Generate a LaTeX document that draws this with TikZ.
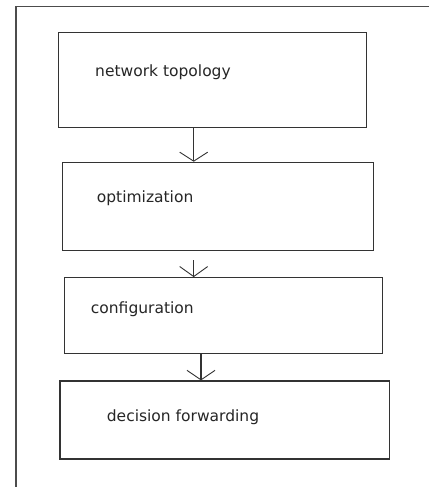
\documentclass[tikz,border=0pt]{standalone}
\usepackage{fontspec}
\setmainfont{DejaVu Sans}
\usetikzlibrary{arrows.meta}
\begin{document}
\begin{tikzpicture}[x=1pt,y=-1pt,
  box/.style={draw=black!80,line width=1.2pt,rectangle,inner sep=0pt},
  lbl/.style={anchor=west,inner sep=0pt,text=black!85,font=\fontsize{15.5}{18}\selectfont},
  frame/.style={draw=black!70,line width=#1},
  arr/.style={draw=black!80,line width=1.1pt},
  tip/.style={-{Straight Barb[length=#1,width=28pt,line width=0.9pt]}}
]
\useasboundingbox[fill=white] (0,0) rectangle (429,487);
% frame
\coordinate (fo) at (16,6.5);
\coordinate (fr) at (429,6.5);
\coordinate (fb) at (16,487);
\draw[frame=1.6pt] (fr) -- (fo);
\draw[frame=2.2pt] (fo) -- (fb);
% boxes
\node[box,minimum width=308pt,minimum height=95.4pt] (b1) at (212.7,80) {};
\node[box,minimum width=310.6pt,minimum height=88.4pt] (b2) at (218,206.5) {};
\node[box,minimum width=318pt,minimum height=75.6pt] (b3) at (223.3,315.5) {};
\node[box,minimum width=329.3pt,minimum height=78pt] (b4) at (224.7,420) {};
% labels
\node[lbl] (t1) at (95,72) {network topology};
\node[lbl] (t2) at (96.7,198) {optimization};
\node[lbl] (t3) at (90.7,309.3) {configuration};
\node[lbl] (t4) at (106.7,417.3) {decision forwarding};
% connectors
\coordinate (x1) at (193.7,0);
\coordinate (x3) at (201,0);
\coordinate (s2) at (193.7,260);
\draw[arr,tip=9pt] (b1.south -| x1) -- (b2.north -| x1);
\draw[arr,tip=10pt] (s2) -- (b3.north -| x1);
\draw[arr,tip=9.5pt] (b3.south -| x3) -- (b4.north -| x3);
\end{tikzpicture}
\end{document}
